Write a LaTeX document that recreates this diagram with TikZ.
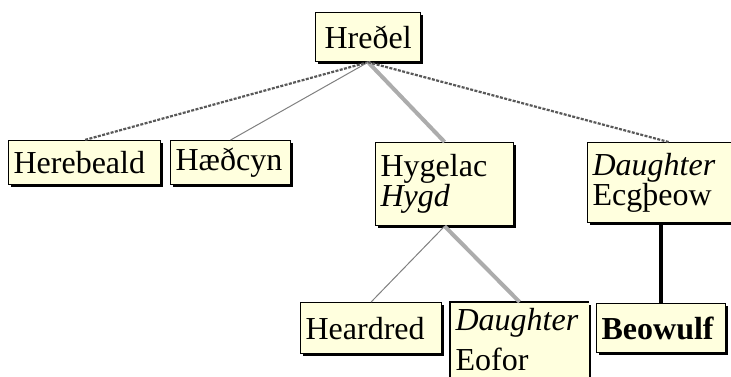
\documentclass[tikz,border=0pt]{standalone}
\usepackage{fontspec}
\setmainfont{Liberation Serif}
\usepackage{xcolor}
\usetikzlibrary{shadows}
\definecolor{boxfill}{RGB}{255,255,222}

\begin{document}
\begin{tikzpicture}[x=0.5pt,y=-0.5pt,semithick]
	\tikzstyle{person}=[draw, line width=0.6pt, fill=boxfill, anchor=north west, align=left,
		inner xsep=2.5pt, inner ysep=1pt, font=\fontsize{16}{15}\selectfont,
		drop shadow={shadow xshift=1pt, shadow yshift=-1pt, fill=black, opacity=1}]
	\tikzstyle{dashlink}=[draw=gray!70!black, line width=1.1pt, dash pattern=on 1.5pt off 0.7pt]
	\tikzstyle{thinlink}=[draw=gray, line width=0.5pt]
	\tikzstyle{thicklink}=[draw=gray!65, line width=2pt]
	\tikzstyle{bloodline}=[draw=black, line width=2pt]

	\path[use as bounding box, clip] (0,0) rectangle (731,376);

	\node[person, text width=47.5pt, minimum height=24.5pt, align=center] (hredel) at (315,12) {Hreðel};
	\node[person, text width=71pt, minimum height=22pt] (herebeald) at (8,140) {Herebeald};
	\node[person, text width=55pt, minimum height=22pt] (haedcyn) at (170,140) {Hæðcyn};
	\node[person, text width=64pt, minimum height=41.5pt] (hygelac) at (375,142) {Hygelac\\\textit{Hygd}};
	\node[person, text width=90pt, minimum height=40pt] (ecgtheow) at (587,142) {\textit{Daughter}\\Ecgþeow};
	\node[person, text width=65.5pt, minimum height=25.5pt] (heardred) at (300,302) {Heardred};
	\node[person, draw=none, drop shadow={opacity=0}, text width=64pt, inner ysep=3pt] (eofor) at (450,302) {\textit{Daughter}\\[5pt]Eofor\\[4pt]};
	\node[person, text width=59.5pt, minimum height=24.5pt, font=\fontsize{16}{15}\selectfont\bfseries] (beowulf) at (596,303) {Beowulf};
	\coordinate (ecgfoot) at (beowulf.north |- ecgtheow.south);

	\draw[line width=0.6pt] (eofor.south west) -- (eofor.north west) -- (eofor.north east);

	\path
		(hredel.south) edge[dashlink] (herebeald.north)
		(hredel.south) edge[thinlink] (haedcyn.north)
		(hredel.south) edge[thicklink] (hygelac.north)
		(hredel.south) edge[dashlink] ([xshift=-7pt]ecgtheow.north)
		(hygelac.south) edge[thinlink] (heardred.north)
		(hygelac.south) edge[thicklink] (eofor.north)
		(ecgfoot) edge[bloodline] (beowulf.north)
		;
\end{tikzpicture}
\end{document}
